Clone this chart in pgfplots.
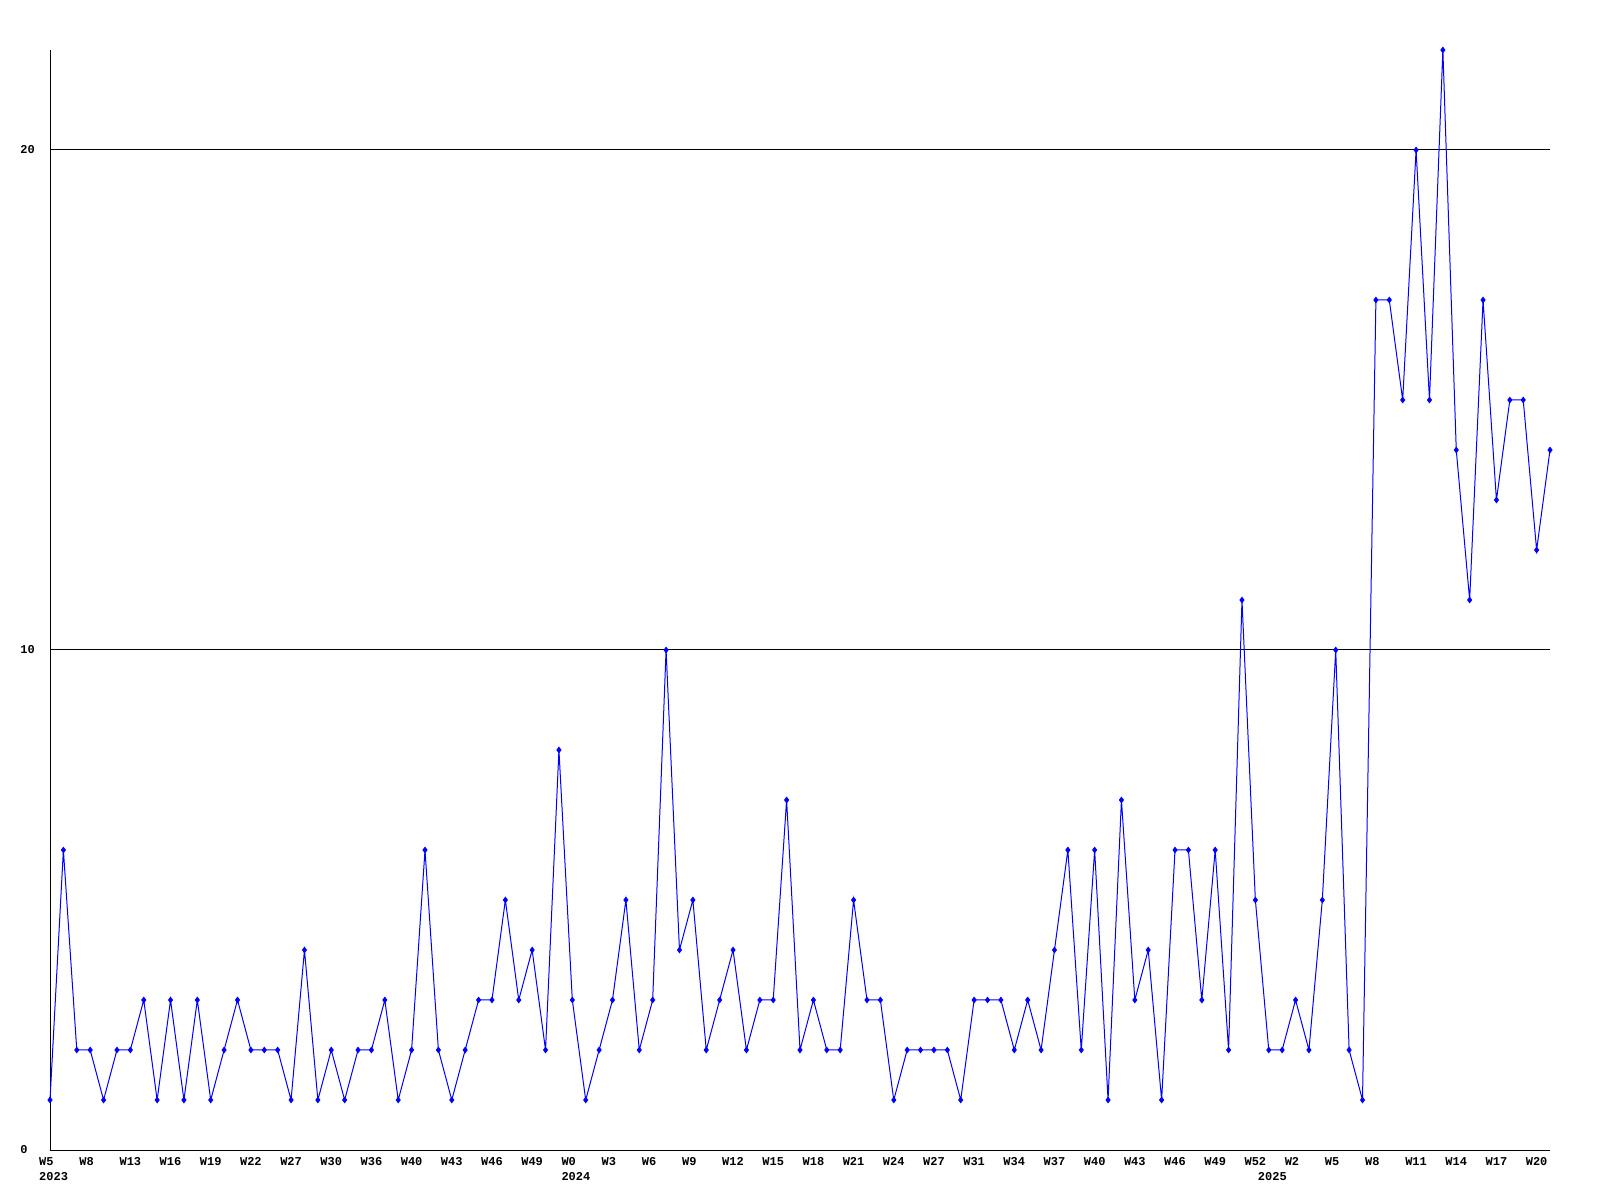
\documentclass[border=0pt]{standalone}
\usepackage{pgfplots}
\pgfplotsset{compat=1.18}
\usepackage{fontspec}
\setmainfont{Liberation Sans}
\setmonofont{Liberation Mono}
\begin{document}
\begin{tikzpicture}
\path[use as bounding box] (-25bp,-25bp) rectangle (775bp,575bp);
\begin{axis}[
  at={(0,0)}, anchor=south west,
  scale only axis, width=750bp, height=550bp,
  xmin=0, xmax=112, ymin=0, ymax=22,
  axis x line*=bottom, axis y line*=left,
  axis line style={black, line width=0.5bp},
  major tick length=0pt, tick style={draw=none},
  ytick={0,10,20}, yticklabels={0,10,20},
  ymajorgrids, major grid style={black, line width=0.5bp},
  xtick={0,3,...,111},
  xticklabels={W5,W8,W13,W16,W19,W22,W27,W30,W36,W40,W43,W46,W49,W0,W3,W6,W9,W12,W15,W18,W21,W24,W27,W31,W34,W37,W40,W43,W46,W49,W52,W2,W5,W8,W11,W14,W17,W20},
  extra x ticks={0,39,91},
  extra x tick labels={2023,2024,2025},
  extra x tick style={grid=none, major tick length=0pt, tick label style={yshift=-7.5bp}},
  /pgf/number format/assume math mode=true,
  tick label style={font=\ttfamily\bfseries\fontsize{6bp}{7bp}\selectfont, inner sep=0pt},
  xticklabel style={anchor=north west, xshift=-5.6bp, yshift=-3.5bp},
  yticklabel style={anchor=west, xshift=-15bp},
  clip=false,
]
\addplot[color=blue, line width=0.5bp, mark=diamond*, mark size=1.3bp, mark options={solid, fill=blue, draw=blue}] table[x=x, y=y] {
x y
0 1
1 6
2 2
3 2
4 1
5 2
6 2
7 3
8 1
9 3
10 1
11 3
12 1
13 2
14 3
15 2
16 2
17 2
18 1
19 4
20 1
21 2
22 1
23 2
24 2
25 3
26 1
27 2
28 6
29 2
30 1
31 2
32 3
33 3
34 5
35 3
36 4
37 2
38 8
39 3
40 1
41 2
42 3
43 5
44 2
45 3
46 10
47 4
48 5
49 2
50 3
51 4
52 2
53 3
54 3
55 7
56 2
57 3
58 2
59 2
60 5
61 3
62 3
63 1
64 2
65 2
66 2
67 2
68 1
69 3
70 3
71 3
72 2
73 3
74 2
75 4
76 6
77 2
78 6
79 1
80 7
81 3
82 4
83 1
84 6
85 6
86 3
87 6
88 2
89 11
90 5
91 2
92 2
93 3
94 2
95 5
96 10
97 2
98 1
99 17
100 17
101 15
102 20
103 15
104 22
105 14
106 11
107 17
108 13
109 15
110 15
111 12
112 14
};
\end{axis}
\end{tikzpicture}
\end{document}
